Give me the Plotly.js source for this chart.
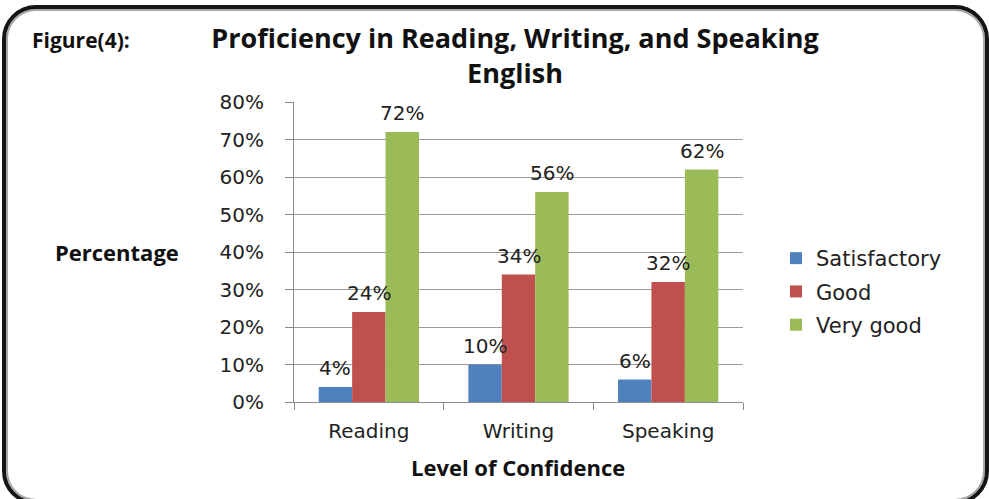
<!DOCTYPE html>
<html>
<head>
<meta charset="utf-8">
<script src="https://cdn.plot.ly/plotly-3.0.1.min.js"></script>
<style>
  html, body { margin: 0; padding: 0; background: #fff; width: 989px; height: 499px; overflow: hidden; }
  #frame { position: absolute; left: 2px; top: 5px; width: 987px; height: 500px; box-sizing: border-box;
           border: 4px solid #151515; border-radius: 34px; box-shadow: inset 0 0 0 2px #a8a8a8; }
  #chart { position: absolute; left: 0; top: 0; width: 989px; height: 499px; }
</style>
</head>
<body>
<div id="frame"></div>
<div id="chart"></div>
<script>
const categories = ["Reading", "Writing", "Speaking"];
const seriesNames = ["Satisfactory", "Good", "Very good"];
const satisfactory = [0.04, 0.10, 0.06];
const good = [0.24, 0.34, 0.32];
const veryGood = [0.72, 0.56, 0.62];
const yTickVals = [0, 0.1, 0.2, 0.3, 0.4, 0.5, 0.6, 0.7, 0.8];
const yTickText = ["0%", "10%", "20%", "30%", "40%", "50%", "60%", "70%", "80%"];

const seriesValues = [satisfactory, good, veryGood];
const colors = ["#4F81BD", "#C0504D", "#9BBB59"];
const tickFont = { family: "DejaVu Sans, Verdana, sans-serif", size: 20, color: "#222" };
const boldFont = (s) => ({ family: "Open Sans, sans-serif", size: s, color: "#111", weight: 700 });

const traces = seriesValues.map((vals, i) => ({
  type: "bar",
  name: seriesNames[i],
  x: categories,
  y: vals,
  marker: { color: colors[i] },
  legendgroup: "g" + i,
  hoverinfo: "none"
}));

const plotLeft = 294, plotRight = 743;
const catPx = (plotRight - plotLeft) / categories.length;
const bargap = 0.33;
const barPx = catPx * (1 - bargap) / seriesValues.length;

const annotations = [];
seriesValues.forEach((vals, i) => {
  vals.forEach((v, j) => {
    annotations.push({
      x: categories[j], y: v, xref: "x", yref: "y",
      text: Math.round(v * 100) + "%",
      showarrow: false, yanchor: "bottom",
      xshift: (i - 1) * barPx, yshift: 5,
      font: tickFont
    });
  });
});
annotations.push({
  text: "Figure(4):", xref: "paper", yref: "paper",
  x: (30 - plotLeft) / (plotRight - plotLeft), y: 1 + (102 - 40) / 300,
  xanchor: "left", yanchor: "middle", showarrow: false,
  font: boldFont(21)
});
annotations.push({
  text: "Percentage", xref: "paper", yref: "paper",
  x: (117 - plotLeft) / (plotRight - plotLeft), y: (402 - 252) / 300,
  xanchor: "center", yanchor: "middle", showarrow: false,
  font: boldFont(22)
});
annotations.push({
  text: "Level of Confidence", xref: "paper", yref: "paper",
  x: (518 - plotLeft) / (plotRight - plotLeft), y: -(467 - 402) / 300,
  xanchor: "center", yanchor: "middle", showarrow: false,
  font: boldFont(22)
});

const layout = {
  width: 989, height: 499,
  paper_bgcolor: "rgba(0,0,0,0)", plot_bgcolor: "rgba(0,0,0,0)",
  margin: { l: plotLeft, r: 989 - plotRight, t: 102, b: 97 },
  title: {
    text: "Proficiency in Reading, Writing, and Speaking<br>English",
    xref: "container", yref: "container",
    x: 515 / 989, xanchor: "center",
    y: 1 - 48 / 499, yanchor: "top",
    font: boldFont(27)
  },
  barmode: "group", bargap: bargap, bargroupgap: 0,
  showlegend: true,
  legend: {
    x: (776 - plotLeft) / (plotRight - plotLeft), xanchor: "left",
    y: (402 - 291.5) / 300, yanchor: "middle",
    font: { family: "DejaVu Sans, Verdana, sans-serif", size: 21, color: "#222" },
    tracegroupgap: 3, bgcolor: "rgba(0,0,0,0)"
  },
  xaxis: {
    type: "category", showgrid: false, showline: true, linecolor: "#8c8c8c", linewidth: 1,
    ticks: "outside", tickson: "boundaries", ticklen: 7, tickcolor: "#8c8c8c",
    tickfont: tickFont, ticklabelstandoff: 11, fixedrange: true
  },
  yaxis: {
    range: [0, 0.8], tickvals: yTickVals, ticktext: yTickText,
    showgrid: true, gridcolor: "#9a9a9a", gridwidth: 1,
    showline: true, linecolor: "#8c8c8c", linewidth: 1,
    ticks: "outside", ticklen: 8, tickcolor: "#8c8c8c",
    tickfont: tickFont, ticklabelstandoff: 17, zeroline: false, fixedrange: true
  },
  annotations: annotations
};

Plotly.newPlot("chart", traces, layout, { staticPlot: true, displayModeBar: false });
</script>
</body>
</html>
